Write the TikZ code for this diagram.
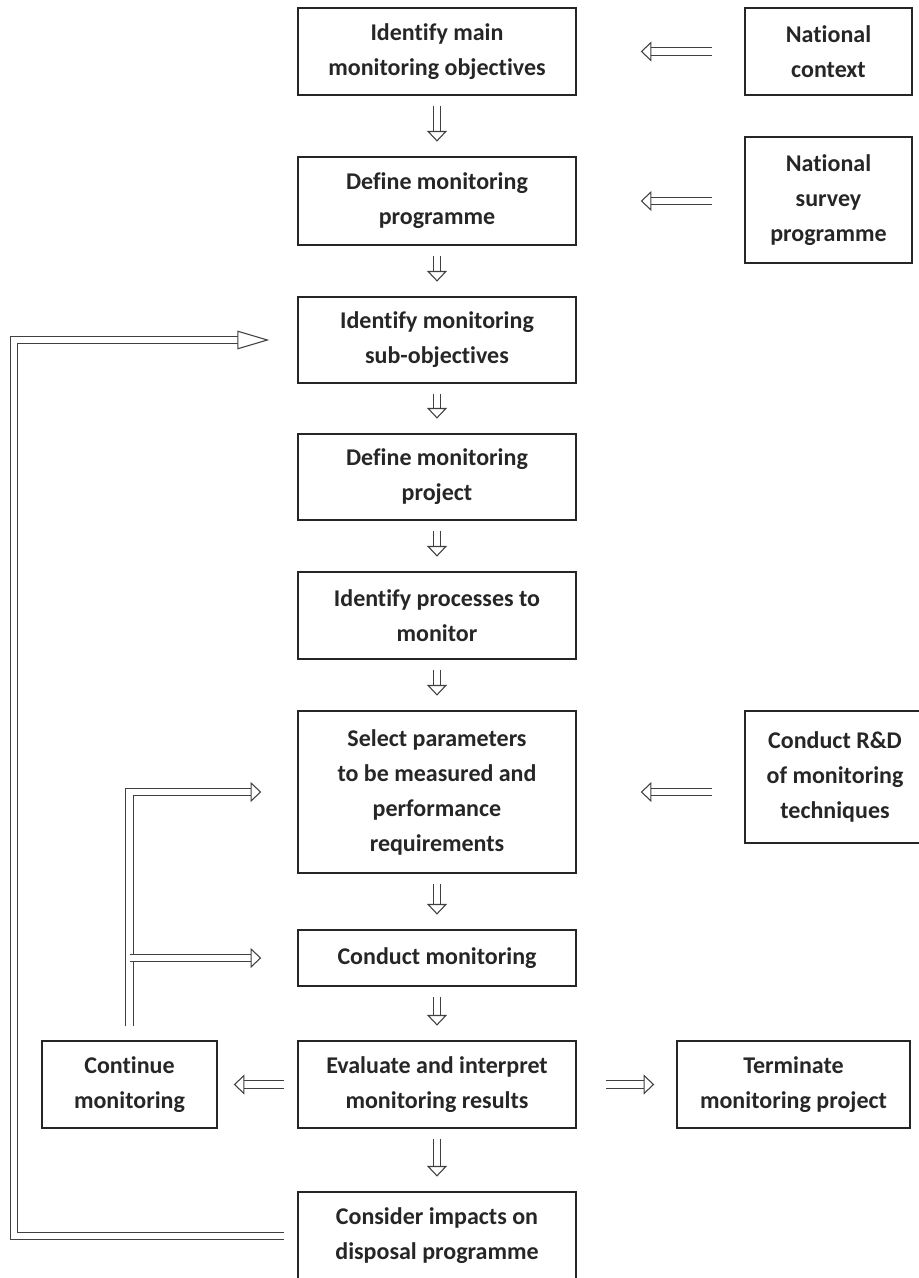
\documentclass[tikz,border=0pt]{standalone}
\usepackage{fontspec}
\setmainfont[Ligatures=NoCommon]{Carlito}
\usetikzlibrary{arrows.meta,calc}

\begin{document}
\begin{tikzpicture}[x=0.75pt,y=-0.75pt,
  box/.style={draw=black!85,line width=1.1pt,align=center,inner sep=0pt,
    minimum width=208.5pt,minimum height=65.25pt,
    font=\bfseries\fontsize{18}{26.25}\selectfont,text=black!85},
  hol/.style={draw=black!75,line width=0.8pt,double=white,double distance=5pt,
    line join=miter,-{Triangle[open,fill=white,length=8pt,width=15pt]}},
  down/.style={hol,shorten <=7.5pt,shorten >=11pt},
  feed/.style={hol,-{Triangle[open,fill=white,length=24pt,width=14pt]}}]

\useasboundingbox (0,0) rectangle (918,1278);

\node[box] (obj) at (437,51.5) {Identify main\\monitoring objectives};
\node[box,minimum width=125.25pt] (ctx) at (828.5,51.5) {National\\context};
\node[box,minimum height=66pt] (prog) at (437,201) {Define monitoring\\programme};
\node[box,minimum width=125.25pt,minimum height=94.5pt] (svy) at (828.5,200) {National\\survey\\programme};
\node[box,minimum height=64.5pt] (sub) at (437,340) {Identify monitoring\\sub-objectives};
\node[box,minimum height=64.5pt] (proj) at (437,477) {Define monitoring\\project};
\node[box] (proc) at (437,615.5) {Identify processes to\\monitor};
\node[box,minimum height=121.5pt] (par) at (437,792) {Select parameters\\to be measured and\\performance\\requirements};
\node[box,minimum width=135pt,minimum height=99pt] (rd) at (835,777) {Conduct R\&D\\of monitoring\\techniques};
\node[box,minimum height=42pt] (mon) at (437,958) {Conduct monitoring};
\node[box] (eval) at (437,1084.5) {Evaluate and interpret\\monitoring results};
\node[box,minimum width=131.25pt] (cont) at (129.5,1084.5) {Continue\\monitoring};
\node[box,minimum width=174.75pt] (term) at (793.5,1084.5) {Terminate\\monitoring project};
\node[box,minimum height=66pt] (imp) at (437,1236) {Consider impacts on\\disposal programme};

\coordinate (fbx) at (14,0);

\draw[down] (obj) -- (prog);
\draw[down] (prog) -- (sub);
\draw[down] (sub) -- (proj);
\draw[down] (proj) -- (proc);
\draw[down] (proc) -- (par);
\draw[down] (par) -- (mon);
\draw[down] (mon) -- (eval);
\draw[down] (eval) -- (imp);

\draw[hol,shorten <=24pt,shorten >=48pt] (ctx) -- (obj.east |- ctx);
\draw[hol,shorten <=24pt,shorten >=48pt] (svy.west |- prog) -- (prog.east);
\draw[hol,shorten <=24pt,shorten >=48pt] (rd.west |- par) -- (par.east);
\draw[hol,shorten <=10pt,shorten >=12pt] (eval) -- (cont);
\draw[hol,shorten <=21.75pt,shorten >=16.5pt] (eval) -- (term);

\draw[feed,shorten <=10pt,shorten >=21pt] (imp.west) -- (fbx |- imp.west) |- (sub.west);
\draw[hol,shorten <=10.5pt,shorten >=27pt] (cont.north) |- (par.west);
\draw[hol,shorten >=27pt] (cont.north |- mon.west) -- (mon.west);

\end{tikzpicture}
\end{document}
